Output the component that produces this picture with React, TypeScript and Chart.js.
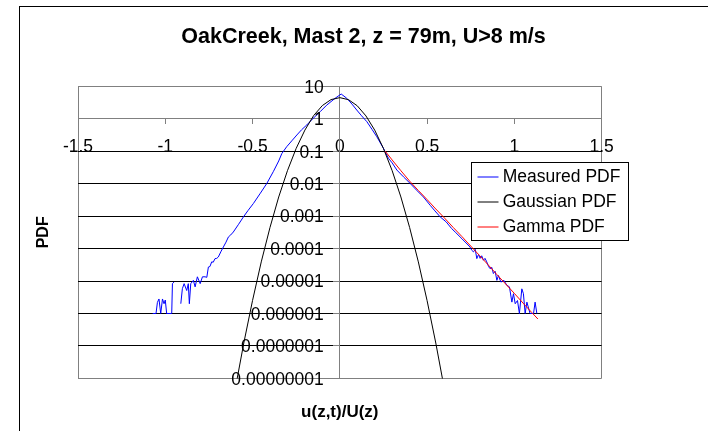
import React, { useEffect, useRef } from "react";
import { Chart, registerables } from "chart.js";

Chart.register(...registerables);

const FONT = "'Liberation Sans', Arial, Helvetica, sans-serif";

const chartTitle = "OakCreek, Mast 2, z = 79m, U>8 m/s";
const xAxisTitle = "u(z,t)/U(z)";
const yAxisTitle = "PDF";
const seriesNames = ["Measured PDF", "Gaussian PDF", "Gamma PDF"];
const seriesColors = ["#0000FF", "#000000", "#FF0000"];

const xTickValues = [-1.5, -1, -0.5, 0, 0.5, 1, 1.5];
const xTickLabels = ["-1.5", "-1", "-0.5", "0", "0.5", "1", "1.5"];
const yTickValues = [1e-8, 1e-7, 1e-6, 1e-5, 1e-4, 1e-3, 1e-2, 1e-1, 1, 10];
const yTickLabels = [
  "0.00000001",
  "0.0000001",
  "0.000001",
  "0.00001",
  "0.0001",
  "0.001",
  "0.01",
  "0.1",
  "1",
  "10",
];

const measuredX = [
  -1.072, -1.053, -1.045, -1.036, -1.026, -1.016, -1.007, -1.0, -0.992, -0.963,
  -0.959, -0.95, -0.94, -0.911, -0.902, -0.892, -0.877, -0.868, -0.862, -0.854,
  -0.839, -0.829, -0.816, -0.8, -0.787, -0.772, -0.762, -0.753, -0.744, -0.734,
  -0.725, -0.715, -0.705, -0.696, -0.68, -0.667, -0.652, -0.638, -0.625, -0.61,
  -0.58, -0.552, -0.525, -0.495, -0.455, -0.418, -0.38, -0.35, -0.332, -0.304,
  -0.275, -0.246, -0.219, -0.189, -0.155, -0.113, -0.075, -0.027, 0.008, 0.04,
  0.07, 0.097, 0.125, 0.155, 0.185, 0.212, 0.25, 0.279, 0.3, 0.327,
  0.365, 0.403, 0.44, 0.479, 0.52, 0.545, 0.575, 0.61, 0.64, 0.661,
  0.7, 0.746, 0.756, 0.766, 0.776, 0.785, 0.795, 0.804, 0.813, 0.823,
  0.832, 0.842, 0.852, 0.861, 0.871, 0.88, 0.89, 0.9, 0.909, 0.923,
  0.94, 0.957, 0.972, 0.986, 0.995, 1.005, 1.018, 1.029, 1.043, 1.052,
  1.062, 1.072, 1.09, 1.11, 1.119, 1.129,
];
const measuredY = [
  1e-6, 1e-6, 2.2e-6, 2.8e-6, 1e-6, 2.8e-6, 2.0e-6, 2.6e-6, 1e-6, 1e-6,
  8.3e-6, 9.3e-6, null, 2.0e-6, 5.8e-6, 8.3e-6, 5.1e-6, 8.3e-6, 2.0e-6, 8.3e-6,
  1.05e-5, 6.6e-6, 1.35e-5, 8.3e-6, 1.35e-5, 1.35e-5, 1.3e-5, 2.7e-5, 2.8e-5, 3.9e-5,
  3.8e-5, 4.9e-5, 5.0e-5, 5.5e-5, 8.3e-5, 1.12e-4, 1.58e-4, 2.29e-4, 2.63e-4, 3.24e-4,
  5.6e-4, 9.5e-4, 1.51e-3, 2.45e-3, 5.1e-3, 0.0102, 0.024, 0.05, 0.085, 0.138,
  0.209, 0.316, 0.457, 0.646, 1.0, 1.64, 2.63, 4.27, 5.78, 4.27,
  2.82, 1.86, 1.23, 0.813, 0.468, 0.279, 0.123, 0.0603, 0.0437, 0.0263,
  0.0162, 0.0102, 6.3e-3, 3.89e-3, 2.09e-3, 1.45e-3, 9.5e-4, 6.6e-4, 4.17e-4, 3.24e-4,
  2.0e-4, 1.12e-4, 8.9e-5, 7.9e-5, 9.5e-5, 4.9e-5, 6.6e-5, 5.0e-5, 6.0e-5, 4.37e-5,
  5.0e-5, 3.89e-5, 2.82e-5, 2.4e-5, 2.63e-5, 1.7e-5, 2.0e-5, 1.05e-5, 1.48e-5, 9.3e-6,
  1.05e-5, 7.4e-6, 6.6e-6, 2.24e-6, 4.07e-6, 2.0e-6, 2.51e-6, 1e-6, 5.75e-6, 4.07e-6,
  1e-6, 2.24e-6, 1e-6, 1e-6, 2.24e-6, 1e-6,
];

const gaussianX = [
  -0.6, -0.55, -0.5, -0.45, -0.4, -0.35, -0.3, -0.25, -0.2, -0.15, -0.1, -0.05, 0,
  0.05, 0.1, 0.15, 0.2, 0.25, 0.3, 0.35, 0.4, 0.45, 0.5, 0.55, 0.6,
];
const gaussianY = [
  4.47e-9, 1.23e-7, 2.51e-6, 3.89e-5, 4.47e-4, 3.89e-3, 0.0251, 0.122, 0.447, 1.25, 2.55, 3.9, 4.47,
  3.87, 2.51, 1.22, 0.447, 0.122, 0.0251, 3.89e-3, 4.47e-4, 3.89e-5, 2.51e-6, 1.23e-7, 4.47e-9,
];

const gammaX = [
  0.26, 0.3, 0.35, 0.4, 0.45, 0.5, 0.55, 0.6, 0.65, 0.7, 0.75, 0.8, 0.85, 0.9, 0.95,
  1.0, 1.05, 1.1, 1.135,
];
const gammaY = [
  0.1, 0.0537, 0.0251, 0.012, 6.17e-3, 3.24e-3, 1.66e-3, 8.71e-4, 4.47e-4, 2.34e-4,
  1.2e-4, 6.17e-5, 3.16e-5, 1.58e-5, 8.13e-6, 4.17e-6, 2.09e-6, 1.07e-6, 6.76e-7,
];

const toPoints = (xs: number[], ys: (number | null)[]) =>
  xs.map((x, i) => ({ x, y: ys[i] }));

export default function App() {
  const canvasRef = useRef<HTMLCanvasElement | null>(null);

  useEffect(() => {
    const canvas = canvasRef.current;
    if (!canvas) return;

    const framePlugin = {
      id: "frame",
      beforeDraw(chart: any) {
        const { ctx, width, height } = chart;
        ctx.save();
        ctx.fillStyle = "#ffffff";
        ctx.fillRect(0, 0, width, height);
        ctx.strokeStyle = "#000000";
        ctx.lineWidth = 1;
        ctx.strokeRect(19.5, 6.5, width + 40, height + 40);
        ctx.restore();
      },
    };

    const yLabelPlugin = {
      id: "yLabels",
      afterDatasetsDraw(chart: any) {
        const { ctx, scales } = chart;
        const x0 = scales.x.getPixelForValue(0);
        ctx.save();
        ctx.font = `17.5px ${FONT}`;
        ctx.fillStyle = "#000000";
        ctx.textAlign = "right";
        ctx.textBaseline = "middle";
        yTickValues.forEach((v, i) => {
          ctx.fillText(yTickLabels[i], x0 - 16, scales.y.getPixelForValue(v) + 1.5);
        });
        ctx.restore();
      },
    };

    const legendPlugin = {
      id: "boxLegend",
      afterDraw(chart: any) {
        const { ctx } = chart;
        const left = 471.5;
        const top = 162.5;
        const w = 157;
        const h = 78;
        ctx.save();
        ctx.fillStyle = "#ffffff";
        ctx.fillRect(left, top, w, h);
        ctx.strokeStyle = "#000000";
        ctx.lineWidth = 1;
        ctx.strokeRect(left, top, w, h);
        ctx.font = `17.5px ${FONT}`;
        ctx.textAlign = "left";
        ctx.textBaseline = "middle";
        seriesNames.forEach((name, i) => {
          const cy = 176.7 + i * 25;
          ctx.strokeStyle = seriesColors[i];
          ctx.lineWidth = 1;
          ctx.beginPath();
          ctx.moveTo(477.5, Math.round(cy));
          ctx.lineTo(498.5, Math.round(cy));
          ctx.stroke();
          ctx.fillStyle = "#000000";
          ctx.fillText(name, 502.7, cy);
        });
        ctx.restore();
      },
    };

    const gray = "#808080";

    const chart = new Chart(canvas, {
      type: "line",
      data: {
        datasets: [
          {
            label: seriesNames[0],
            data: toPoints(measuredX, measuredY) as any,
            borderColor: seriesColors[0],
            backgroundColor: seriesColors[0],
            borderWidth: 1,
            pointRadius: 0,
            tension: 0,
            spanGaps: false,
            xAxisID: "x",
            yAxisID: "y",
            order: 3,
          },
          {
            label: seriesNames[1],
            data: toPoints(gaussianX, gaussianY) as any,
            borderColor: seriesColors[1],
            backgroundColor: seriesColors[1],
            borderWidth: 1,
            pointRadius: 0,
            tension: 0,
            xAxisID: "x",
            yAxisID: "y",
            order: 2,
          },
          {
            label: seriesNames[2],
            data: toPoints(gammaX, gammaY) as any,
            borderColor: seriesColors[2],
            backgroundColor: seriesColors[2],
            borderWidth: 1,
            pointRadius: 0,
            tension: 0,
            xAxisID: "x",
            yAxisID: "y",
            order: 1,
          },
        ],
      },
      options: {
        responsive: false,
        animation: false,
        devicePixelRatio: 1,
        events: [],
        layout: { padding: { left: 19, right: 0, top: 0, bottom: 0 } },
        plugins: {
          legend: { display: false },
          tooltip: { enabled: false },
          title: {
            display: true,
            text: chartTitle,
            color: "#000000",
            font: { family: FONT, size: 21.5, weight: "bold", lineHeight: 1.2 },
            padding: { top: 24.6, bottom: 35.9 },
          },
        },
        scales: {
          x: {
            type: "linear",
            min: -1.5,
            max: 1.5,
            position: { y: 1 } as any,
            afterBuildTicks: (s: any) => {
              s.ticks = xTickValues.map((v) => ({ value: v }));
            },
            afterFit: (s: any) => {
              s.height = 0;
            },
            ticks: {
              callback: (v: any) => xTickLabels[xTickValues.indexOf(Number(v))],
              color: "#000000",
              font: { family: FONT, size: 17.5 },
              padding: 12.5,
              maxRotation: 0,
              autoSkip: false,
            },
            grid: {
              color: (ctx: any) =>
                ctx.tick && Math.abs(ctx.tick.value) === 1.5 ? gray : "rgba(0,0,0,0)",
              tickColor: gray,
              tickLength: 5,
              lineWidth: 1,
              drawOnChartArea: true,
              drawTicks: true,
            },
            border: { display: true, color: gray, width: 1 },
          },
          y: {
            type: "logarithmic",
            min: 1e-8,
            max: 10,
            position: { x: 0 } as any,
            afterBuildTicks: (s: any) => {
              s.ticks = yTickValues.map((v) => ({ value: v }));
            },
            afterFit: (s: any) => {
              s.width = 0;
            },
            ticks: { display: false },
            grid: {
              color: (ctx: any) =>
                ctx.tick && (ctx.tick.value === 10 || ctx.tick.value === 1 || ctx.tick.value === 1e-8)
                  ? gray
                  : "#000000",
              tickColor: gray,
              tickLength: 6,
              lineWidth: 1,
              drawOnChartArea: true,
              drawTicks: true,
            },
            border: { display: true, color: gray, width: 1 },
          },
          yTitle: {
            type: "linear",
            position: "left",
            display: true,
            afterFit: (s: any) => {
              s.width = 59;
            },
            ticks: { display: false },
            grid: { display: false },
            border: { display: false },
            title: {
              display: true,
              text: yAxisTitle,
              color: "#000000",
              font: { family: FONT, size: 16, weight: "bold", lineHeight: 1.2 },
              padding: { top: 14.7, bottom: 0 },
            },
          },
          yPad: {
            type: "linear",
            position: "right",
            display: true,
            afterFit: (s: any) => {
              s.width = 106.4;
            },
            ticks: { display: false },
            grid: { display: false },
            border: { display: false },
          },
          xTitle: {
            type: "linear",
            position: "bottom",
            display: true,
            afterFit: (s: any) => {
              s.height = 52.6;
            },
            ticks: { display: false },
            grid: { display: false },
            border: { display: false },
            title: {
              display: true,
              text: xAxisTitle,
              color: "#000000",
              font: { family: FONT, size: 17, weight: "bold", lineHeight: 1.2 },
              padding: { top: 0, bottom: 8.3 },
            },
          },
        },
      } as any,
      plugins: [framePlugin, yLabelPlugin, legendPlugin],
    });

    return () => {
      chart.destroy();
    };
  }, []);

  return (
    <div
      style={{
        position: "absolute",
        left: 0,
        top: 0,
        width: 708,
        height: 431,
        background: "#ffffff",
      }}
    >
      <canvas
        ref={canvasRef}
        width={708}
        height={431}
        style={{ display: "block", width: 708, height: 431 }}
      />
    </div>
  );
}
